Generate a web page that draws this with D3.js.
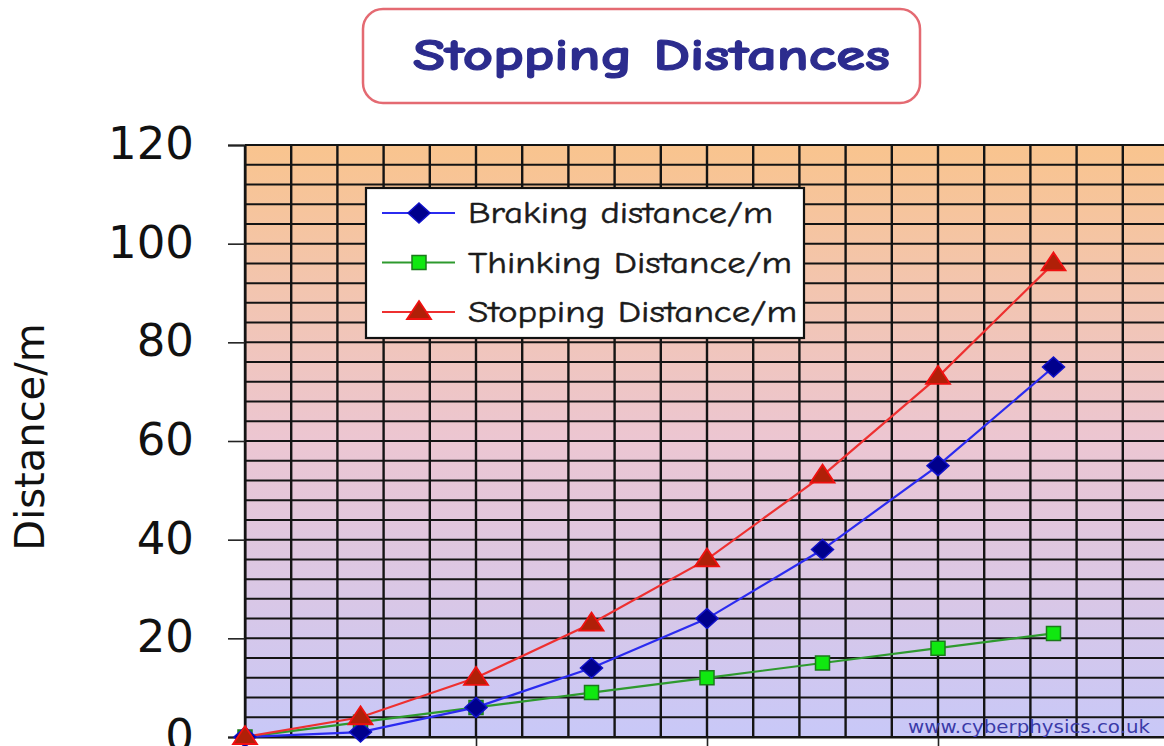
<!DOCTYPE html>
<html>
<head>
<meta charset="utf-8">
<script src="https://cdn.jsdelivr.net/npm/d3@7"></script>
<style>
  html, body { margin: 0; padding: 0; background: #fff; }
  svg { display: block; }
</style>
</head>
<body>
<svg id="chart" width="1164" height="746"></svg>
<script>
// Speeds (mph) and the distances at each speed (m)
const speeds   = [0, 10, 20, 30, 40, 50, 60, 70];
const braking  = [0, 1, 6, 14, 24, 38, 55, 75];
const thinking = [0, 3, 6, 9, 12, 15, 18, 21];
const stopping = [0, 4, 12, 23, 36, 53, 73, 96];

const yTicks = [0, 20, 40, 60, 80, 100, 120];
const xTicks = [0, 20, 40, 60, 80];

const seriesNames = ["Braking distance/m", "Thinking Distance/m", "Stopping Distance/m"];

const svg = d3.select("#chart");

const x = d3.scaleLinear().domain([0, 80]).range([245, 1169]);
const y = d3.scaleLinear().domain([0, 120]).range([737, 145]);

const handFont = "'Comic Sans MS', 'Comic Neue', 'DejaVu Sans', sans-serif";

// ---- background gradient of the plot area
const defs = svg.append("defs");
const grad = defs.append("linearGradient")
  .attr("id", "bg").attr("x1", 0).attr("y1", 0).attr("x2", 0).attr("y2", 1);
grad.append("stop").attr("offset", "0%").attr("stop-color", "#f9c48e");
grad.append("stop").attr("offset", "50%").attr("stop-color", "#ecc6d2");
grad.append("stop").attr("offset", "100%").attr("stop-color", "#c8c8f8");

svg.append("rect")
  .attr("x", x(0)).attr("y", y(120))
  .attr("width", x(80) - x(0)).attr("height", y(0) - y(120))
  .attr("fill", "url(#bg)");

// ---- grid: every 4 units in both directions
const grid = svg.append("g").attr("stroke", "#141414");
grid.selectAll("line.h")
  .data(d3.range(0, 121, 4))
  .join("line")
  .attr("class", "h")
  .attr("x1", x(0)).attr("x2", x(80))
  .attr("y1", d => y(d)).attr("y2", d => y(d))
  .attr("stroke-width", 2);
grid.selectAll("line.v")
  .data(d3.range(0, 81, 4))
  .join("line")
  .attr("class", "v")
  .attr("y1", y(0)).attr("y2", y(120))
  .attr("x1", d => x(d)).attr("x2", d => x(d))
  .attr("stroke-width", 2.4);

// ---- axes
const yAxis = svg.append("g")
  .attr("transform", `translate(${x(0)},0)`)
  .call(d3.axisLeft(y).tickValues(yTicks).tickSize(17).tickPadding(34));
yAxis.select(".domain").attr("stroke", "#141414").attr("stroke-width", 2);
yAxis.selectAll(".tick line").attr("stroke", "#222").attr("stroke-width", 1.6);
yAxis.selectAll(".tick text")
  .attr("font-family", "'DejaVu Sans', Verdana, sans-serif")
  .attr("font-size", 45)
  .attr("fill", "#111")
  .attr("dy", "0.30em");

const xAxis = svg.append("g")
  .attr("transform", `translate(0,${y(0)})`)
  .call(d3.axisBottom(x).tickValues(xTicks).tickSize(16).tickFormat(""));
xAxis.select(".domain").attr("stroke", "#141414").attr("stroke-width", 2);
xAxis.selectAll(".tick line").attr("stroke", "#222").attr("stroke-width", 1.6);

// y axis title
svg.append("text")
  .attr("transform", `translate(44,437) rotate(-90)`)
  .attr("text-anchor", "middle")
  .attr("font-family", "'DejaVu Sans', Verdana, sans-serif")
  .attr("font-size", 40)
  .attr("fill", "#111")
  .text("Distance/m");

// ---- marker shapes
const diamond = "M0,-10L11,0L0,10L-11,0Z";
const square = "M-7,-7H7V7H-7Z";
const triangle = "M0,-11L12,7H-12Z";

const series = [
  { name: seriesNames[0], values: braking,  line: "#2b2bf0", shape: diamond,  fill: "#00008c", stroke: "#1010c8", sw: 1.5, w: 305 },
  { name: seriesNames[1], values: thinking, line: "#2e9a2e", shape: square,   fill: "#10e810", stroke: "#1a7a1a", sw: 1.5, w: 324 },
  { name: seriesNames[2], values: stopping, line: "#ee3030", shape: triangle, fill: "#b02008", stroke: "#f01010", sw: 1.8, w: 329 }
];

const lineGen = d3.line().x((d, i) => x(speeds[i])).y(d => y(d));

// thinking underneath, then braking, then stopping on top
const drawOrder = [series[1], series[0], series[2]];
drawOrder.forEach(s => {
  svg.append("path")
    .datum(s.values)
    .attr("d", lineGen)
    .attr("fill", "none")
    .attr("stroke", s.line)
    .attr("stroke-width", 2.2);
});
drawOrder.forEach(s => {
  svg.append("g").selectAll("path")
    .data(s.values)
    .join("path")
    .attr("d", s.shape)
    .attr("transform", (d, i) => `translate(${x(speeds[i])},${y(d)})`)
    .attr("fill", s.fill)
    .attr("stroke", s.stroke)
    .attr("stroke-width", s.sw);
});

// ---- legend
const lg = svg.append("g");
lg.append("rect")
  .attr("x", 366).attr("y", 188)
  .attr("width", 438).attr("height", 150)
  .attr("fill", "#ffffff")
  .attr("stroke", "#111")
  .attr("stroke-width", 2.2);
series.forEach((s, i) => {
  const ry = 213 + i * 49.5;
  lg.append("line")
    .attr("x1", 382).attr("x2", 455)
    .attr("y1", ry).attr("y2", ry)
    .attr("stroke", s.line).attr("stroke-width", 2.2);
  lg.append("path")
    .attr("d", s.shape)
    .attr("transform", `translate(419,${ry})`)
    .attr("fill", s.fill)
    .attr("stroke", s.stroke)
    .attr("stroke-width", s.sw);
  lg.append("text")
    .attr("x", 468).attr("y", ry + 10)
    .attr("font-family", handFont)
    .attr("font-size", 31)
    .attr("fill", "#1a1a1a")
    .attr("stroke", "#1a1a1a")
    .attr("stroke-width", 0.5)
    .attr("textLength", s.w)
    .attr("lengthAdjust", "spacingAndGlyphs")
    .text(s.name);
});

// ---- title box
svg.append("rect")
  .attr("x", 363).attr("y", 9)
  .attr("width", 557).attr("height", 94)
  .attr("rx", 20).attr("ry", 20)
  .attr("fill", "#ffffff")
  .attr("stroke", "#e46a72")
  .attr("stroke-width", 2.5);
svg.append("text")
  .attr("x", 413).attr("y", 70)
  .attr("font-family", handFont)
  .attr("font-weight", "bold")
  .attr("font-size", 44)
  .attr("fill", "#2c2c8e")
  .attr("stroke", "#2c2c8e")
  .attr("stroke-width", 1.2)
  .attr("textLength", 477)
  .attr("lengthAdjust", "spacingAndGlyphs")
  .text("Stopping Distances");

// ---- site credit
svg.append("text")
  .attr("x", 908).attr("y", 733)
  .attr("font-family", "'DejaVu Sans', Verdana, sans-serif")
  .attr("font-size", 17)
  .attr("fill", "#3a3aa8")
  .attr("textLength", 242)
  .attr("lengthAdjust", "spacingAndGlyphs")
  .text("www.cyberphysics.co.uk");
</script>
</body>
</html>
